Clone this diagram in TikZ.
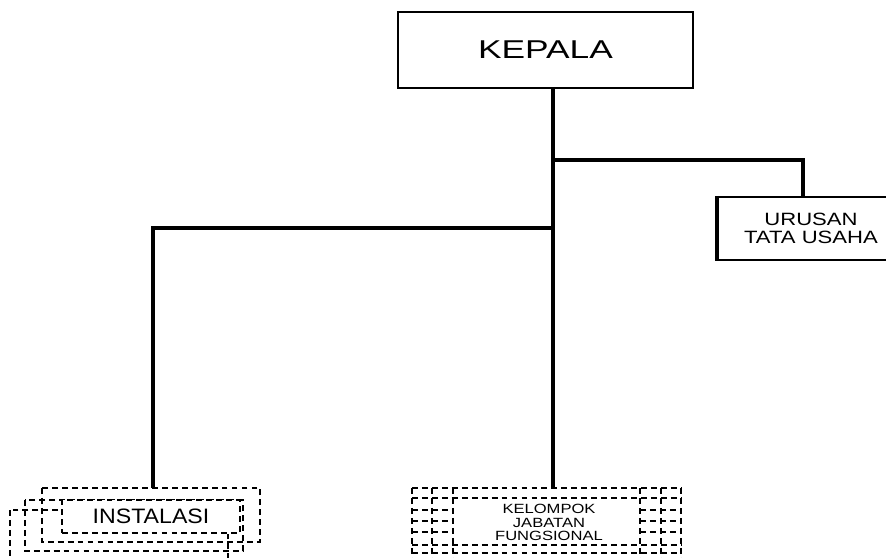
\documentclass[tikz,border=0pt]{standalone}
\usepackage{fontspec}
\setmainfont{Liberation Sans}
\newfontfamily\kepfont[FakeStretch=1.37]{Liberation Sans}
\newfontfamily\unitfont[FakeStretch=1.24]{Liberation Sans}
\newfontfamily\instfont[FakeStretch=1.11]{Liberation Sans}
\usetikzlibrary{positioning}

\begin{document}
\begin{tikzpicture}[x=0.03cm, y=-0.03cm,
  box/.style={draw, line width=1.9pt, align=center, inner sep=0pt, fill=white},
  link/.style={line width=3pt},
  dbox/.style={line width=1.4pt, dash pattern=on 5pt off 3.5pt}]
\useasboundingbox (0,0) rectangle (886,558);
\clip (0,0) rectangle (886,558);

% connector points
\coordinate (instTop) at (153,488);
\coordinate (kelTop) at (553,488);
\coordinate (lj) at (553,228);
\coordinate (rj) at (553,160);
\coordinate (urTop) at (803,197);

\draw[link] (553,88) -- (kelTop);
\draw[link] (lj) -| (instTop);
\draw[link] (rj) -| (urTop);

\node[box, minimum width=8.85cm, minimum height=2.28cm, font=\kepfont\fontsize{22}{26}\selectfont] (kepala) at (545.5,50) {KEPALA};
\node[box, minimum width=5.58cm, minimum height=1.89cm, font=\unitfont\fontsize{15.2}{15.4}\selectfont] (urusan) at (811,228.5) {URUSAN\\TATA USAHA};
\draw[line width=3pt] (urusan.north west) -- (urusan.south west);

% instalasi stack
\draw[dbox] (10,510) rectangle (228,580);
\draw[dbox] (25,500) rectangle (243,551);
\draw[dbox] (42,488) rectangle (260,542);
\node[dbox, draw, fill=white, minimum width=5.34cm, minimum height=0.99cm, font=\instfont\fontsize{17.8}{20}\selectfont] (instalasi) at (151,516.5) {INSTALASI};

% kelompok grid
\foreach \x in {412,432,453,640,661,681}
  \draw[dbox] (\x,488) -- (\x,580);
\foreach \y in {488,498,545,553}
  \draw[dbox] (412,\y) -- (681,\y);
\foreach \y in {510,521,532} {
  \draw[dbox] (412,\y) -- (453,\y);
  \draw[dbox] (640,\y) -- (681,\y);
}
\node[align=center, font=\unitfont\fontsize{11.4}{11.2}\selectfont] (kelompok) at (549,522.5) {KELOMPOK\\JABATAN\\FUNGSIONAL};
\end{tikzpicture}
\end{document}
